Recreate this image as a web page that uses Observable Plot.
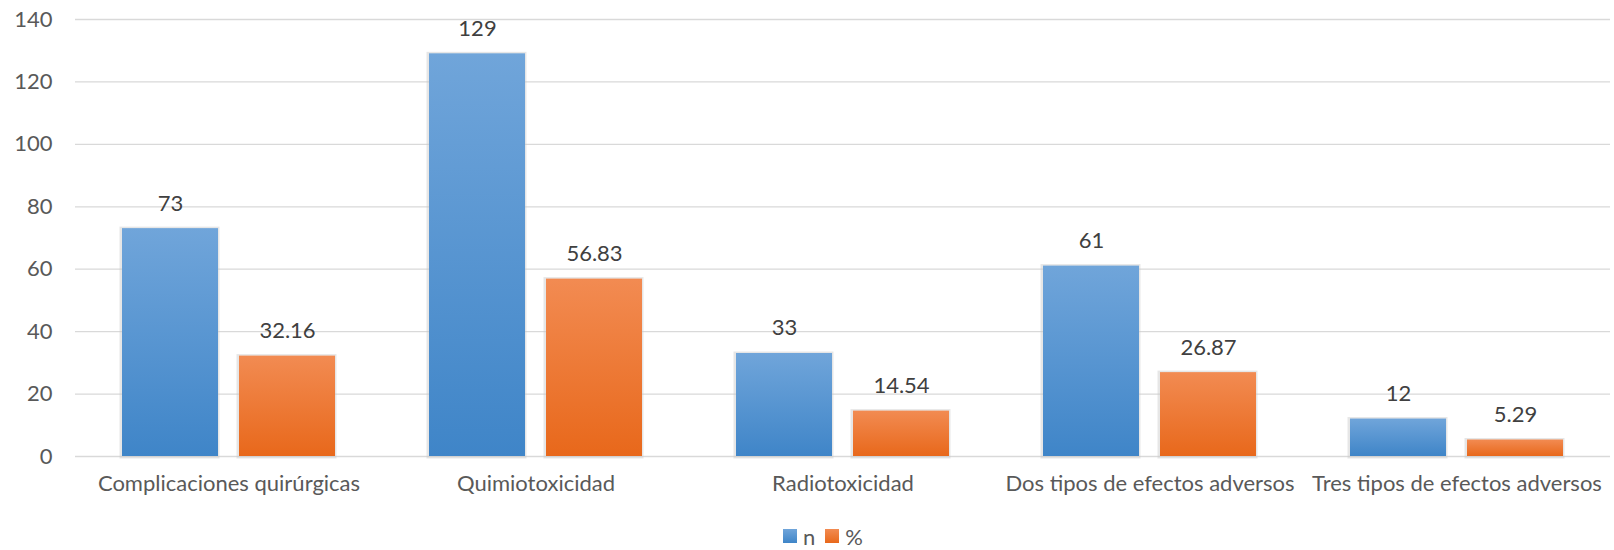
<!DOCTYPE html>
<html><head><meta charset="utf-8">
<script src="https://cdn.jsdelivr.net/npm/d3@7"></script>
<script src="https://cdn.jsdelivr.net/npm/@observablehq/plot@0.6"></script>
<style>
body{margin:0;background:#fff;font-family:Lato, "Open Sans", sans-serif;}
#legend{display:flex;justify-content:center;align-items:center;height:52px;margin-left:32px;font-size:22px;color:#595959;}
#legend .item{display:flex;align-items:center;margin:0 5px;}
#legend .sw{width:14px;height:14px;margin-right:6px;}
</style></head><body><div id="chart"></div>
<script>
const categories = ["Complicaciones quirúrgicas","Quimiotoxicidad","Radiotoxicidad","Dos tipos de efectos adversos","Tres tipos de efectos adversos"];
const seriesNames = ["n","%"];
const nValues = [73,129,33,61,12];
const pctValues = [32.16,56.83,14.54,26.87,5.29];
const yTicks = [0,20,40,60,80,100,120,140];
const seriesColors = {n:["#70a5da","#3f85c8"], "%":["#f28b52","#e8681b"]};

const data = categories.flatMap((c,i)=>[
  {category:c, series:seriesNames[0], value:nValues[i]},
  {category:c, series:seriesNames[1], value:pctValues[i]}
]);

const defsMark = () => {
  const g = d3.create("svg:g");
  const defs = g.append("defs");
  [["gradN","n"],["gradP","%"]].forEach(([id,s])=>{
    const lg = defs.append("linearGradient").attr("id",id).attr("x1",0).attr("y1",0).attr("x2",0).attr("y2",1);
    lg.append("stop").attr("offset","0%").attr("stop-color",seriesColors[s][0]);
    lg.append("stop").attr("offset","100%").attr("stop-color",seriesColors[s][1]);
  });
  return g.node();
};

const chart = Plot.plot({
  width:1614, height:510,
  marginTop:19, marginBottom:54, marginLeft:75, marginRight:4,
  style:{fontFamily:"Lato, 'Open Sans', sans-serif", fontSize:"22px", color:"#595959", background:"white"},
  fx:{domain:categories, padding:0, label:null},
  x:{domain:seriesNames, paddingInner:0.1795, paddingOuter:0.4017, axis:null},
  y:{domain:[0,140], label:null, axis:null},
  marks:[
    defsMark,
    Plot.gridY(yTicks, {stroke:"#d9d9d9", strokeOpacity:1, strokeWidth:1.3}),
    Plot.axisY(yTicks, {tickSize:0, tickPadding:23, label:null, fill:"#595959", fontSize:22}),
    Plot.axisFx({anchor:"bottom", tickSize:0, tickPadding:19, label:null, fill:"#595959", fontSize:22}),
    Plot.barY(data, {fx:"category", x:"series", y:"value", fill:"#c8c8c8", fillOpacity:0.45, insetLeft:-2.5, insetRight:-1.5, insetTop:-1.5, insetBottom:-2.5}),
    Plot.barY(data.filter(d=>d.series==="n"), {fx:"category", x:"series", y:"value", fill:"url(#gradN)"}),
    Plot.barY(data.filter(d=>d.series==="%"), {fx:"category", x:"series", y:"value", fill:"url(#gradP)"}),
    Plot.text(data, {fx:"category", x:"series", y:"value", text:d=>String(d.value), dy:-18, lineAnchor:"bottom", fill:"#404040", fontSize:22})
  ]
});
document.getElementById("chart").appendChild(chart);

const legend = d3.select("body").append("div").attr("id","legend");
seriesNames.forEach(s=>{
  const it = legend.append("div").attr("class","item");
  it.append("div").attr("class","sw").style("background",`linear-gradient(${seriesColors[s][0]},${seriesColors[s][1]})`);
  it.append("span").text(s);
});
</script></body></html>
